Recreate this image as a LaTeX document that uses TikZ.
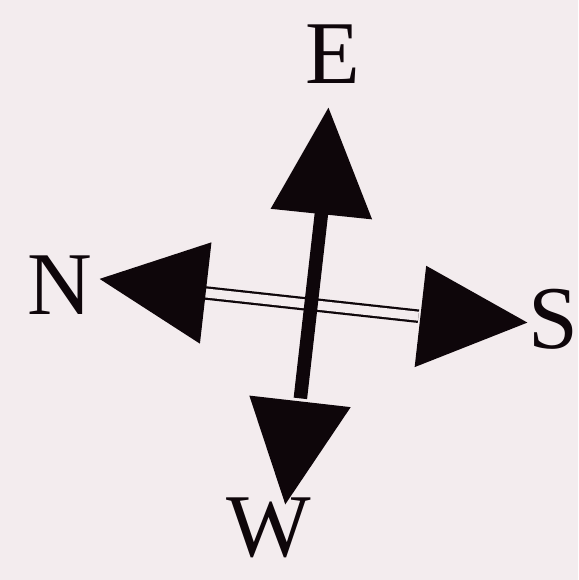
\documentclass[tikz,border=0pt]{standalone}
\usepackage{fontspec}
\setmainfont{Liberation Serif}
\usetikzlibrary{calc}
\definecolor{paper}{RGB}{243,236,238}
\definecolor{ink}{RGB}{14,6,10}

\begin{document}
\begin{tikzpicture}[x=0.02cm, y=0.02cm, line join=round, font=\fontsize{51}{60}\selectfont, text=ink,
	lbl/.style={inner sep=0pt}]
	\def \b{51} \def \hv{94} \def \hh{108}
	\fill[paper] (0,0) rectangle (578,580);
	\useasboundingbox (0,0) rectangle (578,580);
	\begin{scope}[shift={(311,275)}, rotate=-6.5]
	\coordinate (O) at (0,0);
	% tips
	\coordinate (e) at (-5,198);
	\coordinate (w) at (-3,-201);
	\coordinate (n) at (-213,2);
	\coordinate (s) at (217,7);
	% bases
	\coordinate (eb) at (0,\hv);
	\coordinate (wb) at (0,-\hv);
	\coordinate (nb) at (-\hh,0);
	\coordinate (sb) at (\hh,1);
	% shafts
	\draw[ink, line width=0.045cm, double=paper, double distance=0.18cm] (nb) -- (sb);
	\draw[ink, line width=0.27cm] (eb) -- (wb);
	% heads
	\fill[ink] (e) -- ($(eb)+(-\b,-3)$) -- ($(eb)+(\b,-2)$) -- cycle;
	\fill[ink] (w) -- ($(wb)+(-\b,-3)$) -- ($(wb)+(\b,-3)$) -- cycle;
	\fill[ink] (n) -- ($(nb)+(2,\b)$) -- ($(nb)+(2,-\b)$) -- cycle;
	\fill[ink] (s) -- ($(sb)+(2,\b)$) -- ($(sb)+(2,-\b)$) -- cycle;
	% labels
	\node[lbl] (E) at (-7,252) {E};
	\node[lbl] (W) at (-17,-226) {W};
	\node[lbl] (N) at (-252,-9) {N};
	\node[lbl] (S) at (242,13) {S};
	\end{scope}
\end{tikzpicture}
\end{document}
